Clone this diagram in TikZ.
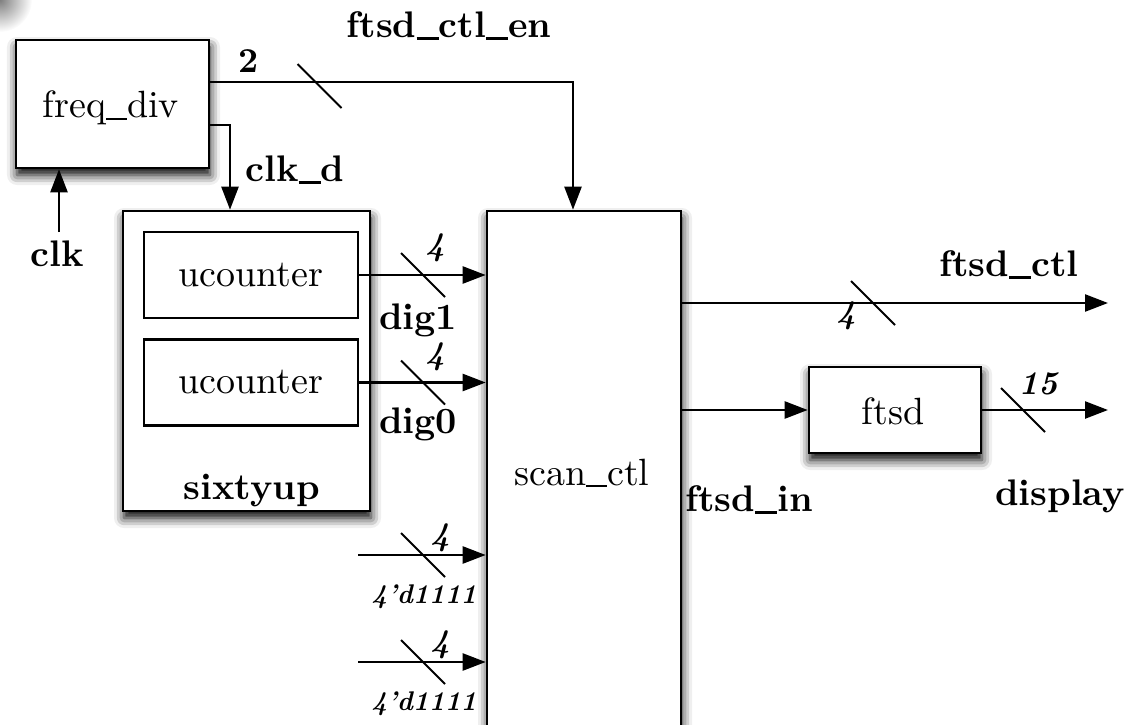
\documentclass[tikz,border=0pt]{standalone}
\usepackage{fontspec}
\setmainfont{lmroman10}[Extension=.otf, UprightFont=*-regular, BoldFont=*-bold,
  ItalicFont=*-italic, BoldItalicFont=*-bolditalic]
\usetikzlibrary{arrows.meta,calc,shadows.blur}

% compact underscores for regular and bold signal names
\newcommand{\usr}{\rule[-0.06em]{0.55em}{0.055em}}
\newcommand{\usb}{\rule[-0.06em]{0.6em}{0.08em}}

\tikzset{
  blk/.style={draw, line width=2.6pt, fill=white, rectangle, inner sep=0pt,
    blur shadow={shadow xshift=1pt, shadow yshift=-7pt,
                 shadow blur radius=10pt, shadow opacity=100},
    font=\fontsize{38}{44}\selectfont},
  subblk/.style={draw, line width=2.2pt, fill=white, rectangle, inner sep=0pt,
    font=\fontsize{38}{44}\selectfont},
  wire/.style={line width=2.4pt, -{Triangle[length=23pt,width=17pt]}},
  slash/.style={line width=1.8pt},
  sig/.style={font=\bfseries\fontsize{37}{44}\selectfont, inner sep=0pt},
  busw/.style={font=\bfseries\itshape\fontsize{33}{36}\selectfont, inner sep=0pt},
  buswup/.style={font=\bfseries\fontsize{35}{38}\selectfont, inner sep=0pt},
  const/.style={font=\bfseries\itshape\fontsize{27}{30}\selectfont, inner sep=0pt},
  plain/.style={font=\fontsize{38}{44}\selectfont, inner sep=0pt},
}

% short diagonal stroke marking a multi-bit bus
\newcommand{\busmark}[1]{\draw[slash] ($#1+(-22,-22)$) -- ($#1+(22,22)$);}

\begin{document}
\begin{tikzpicture}[x=1pt,y=-1pt]
  \useasboundingbox (0,0) rectangle (1148,725);
  \clip (0,0) rectangle (1148,725);

  % soft shading in the upper left corner
  \shade[inner color=black!50, outer color=white] (0,0) circle (32);

  % blocks
  \node[blk, minimum width=193pt, minimum height=128pt] (fd) at (112.5,104) {};
  \node[plain] (fdl) at (111,108) {freq\usr div};

  \node[blk, minimum width=247pt, minimum height=300pt] (six) at (246.5,361) {};
  \node[subblk, minimum width=214pt, minimum height=86pt] (u1) at (251,275) {ucounter};
  \node[subblk, minimum width=214pt, minimum height=86pt] (u0) at (251,382.5) {ucounter};
  \node[sig] (sixl) at (252,491) {sixtyup};

  \node[blk, minimum width=194pt, minimum height=600pt] (scan) at (584,511) {};
  \node[plain] (scanl) at (582,473) {scan\usr ctl};

  \node[blk, minimum width=172pt, minimum height=86pt] (ftsd) at (895,410) {};
  \node[plain] (ftsdl) at (893,411) {ftsd};

  % free ends of the input and output wires
  \coordinate (clkin) at (59,232);
  \coordinate (k1) at (358,555);
  \coordinate (k0) at (358,662);
  \coordinate (ctlout) at (1108,303);
  \coordinate (dispout) at (1108,410);

  % connections
  \draw[wire] ([yshift=22pt]fd.east) -| ([xshift=-11pt]scan.north);
  \draw[wire] ([yshift=-21pt]fd.east) -| ([xshift=-16.5pt]six.north);
  \draw[wire] (clkin) -- (clkin |- fd.south);
  \draw[wire] (u1.east) -- (u1.east -| scan.west);
  \draw[wire] (u0.east) -- (u0.east -| scan.west);
  \draw[wire] (k1) -- (k1 -| scan.west);
  \draw[wire] (k0) -- (k0 -| scan.west);
  \draw[wire] (ctlout -| scan.east) -- (ctlout);
  \draw[wire] (ftsd.west -| scan.east) -- (ftsd.west);
  \draw[wire] (ftsd.east) -- (dispout);

  % bus width marks
  \busmark{(319.5,86)}
  \busmark{(423,275)}
  \busmark{(423,382.5)}
  \busmark{(423,555)}
  \busmark{(423,662)}
  \busmark{(873,303)}
  \busmark{(1023,410)}

  % bus widths
  \node[buswup] (w2) at (249,61) {2};
  \node[busw] (w1) at (435,248) {4};
  \node[busw] (w0) at (435,357) {4};
  \node[busw] (wk1) at (440,538) {4};
  \node[busw] (wk0) at (440,645) {4};
  \node[busw] (wc) at (846,316) {4};
  \node[busw] (wd) at (1038,384) {15};

  % signal names
  \node[sig] (en) at (449,26) {ftsd\usb ctl\usb en};
  \node[sig] (clkd) at (295,170) {clk\usb d};
  \node[sig] (clk) at (57,254) {clk};
  \node[sig] (d1) at (418,320) {dig1};
  \node[sig] (d0) at (418,424) {dig0};
  \node[const] (c1) at (424,597) {4'd1111};
  \node[const] (c0) at (424,704) {4'd1111};
  \node[sig] (ctl) at (1009,265) {ftsd\usb ctl};
  \node[sig] (fin) at (749,500) {ftsd\usb in};
  \node[sig] (disp) at (1060,496) {display};
\end{tikzpicture}
\end{document}
